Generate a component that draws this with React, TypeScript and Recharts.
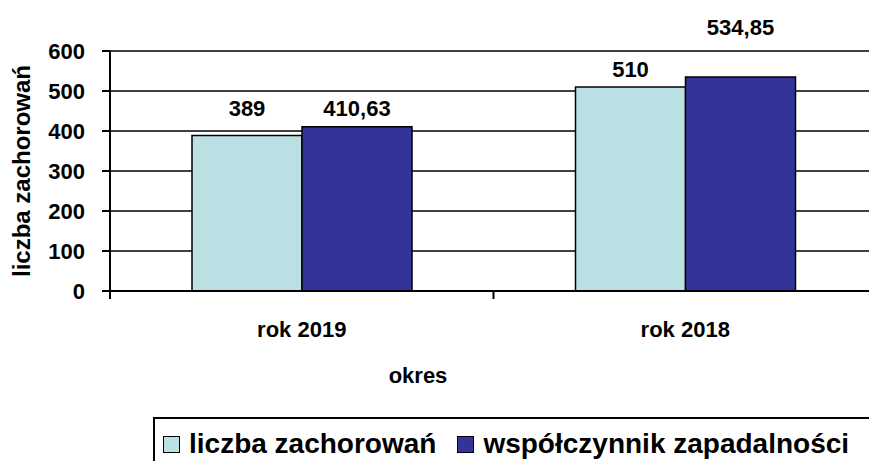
import React from 'react';
import { BarChart, Bar, XAxis, YAxis, CartesianGrid, LabelList } from 'recharts';

const categories = ['rok 2019', 'rok 2018'];
const cases = [389, 510];
const incidence = [410.63, 534.85];
const yTicks = [0, 100, 200, 300, 400, 500, 600];

const SERIES = [
  { key: 'cases', name: 'liczba zachorowań', color: '#BBE0E3' },
  { key: 'incidence', name: 'współczynnik zapadalności', color: '#333399' },
];

const data = categories.map((c, i) => ({ name: c, cases: cases[i], incidence: incidence[i] }));

const FONT = 'Arial, "Liberation Sans", sans-serif';

// how far above the bar top Excel put each value label
const LABEL_LIFT: Record<string, number[]> = { cases: [19, 10], incidence: [11, 42] };

const fmt = (v: number) => String(v).replace('.', ',');

const makeLabel = (key: string) => (props: any) => {
  const { x, y, width, value, index } = props;
  return (
    <text x={x + width / 2} y={y - LABEL_LIFT[key][index]} textAnchor="middle" fontFamily={FONT} fontSize={22} fontWeight="bold" fill="#000">
      {fmt(value)}
    </text>
  );
};

const XTick = (props: any) => {
  const { x, y, payload, width, visibleTicksCount } = props;
  const half = payload?.offset || width / (2 * visibleTicksCount);
  return (
    <g>
      <line x1={x - half} x2={x - half} y1={y} y2={y + 8} stroke="#000" strokeWidth={2} />
      <text x={x} y={y + 46} textAnchor="middle" fontFamily={FONT} fontSize={22} fontWeight="bold" fill="#000">
        {payload.value}
      </text>
    </g>
  );
};

const App: React.FC = () => (
  <div style={{ position: 'absolute', left: 0, top: 0, width: 869, height: 461, overflow: 'hidden', background: '#fff' }}>
    <BarChart width={880} height={461} data={data} margin={{ top: 51, right: 3, left: 0, bottom: 0 }} barGap={0} barSize={110}>
      <CartesianGrid vertical={false} stroke="#000" strokeWidth={1.5} />
      <XAxis
        dataKey="name"
        height={170}
        tickSize={0}
        tickMargin={0}
        tick={<XTick />}
        axisLine={{ stroke: '#000', strokeWidth: 2 }}
        label={{
          content: (p: any) => (
            <text x={p.viewBox.x + 308} y={p.viewBox.y + 92} textAnchor="middle" fontFamily={FONT} fontSize={22} fontWeight="bold" fill="#000">
              okres
            </text>
          ),
        }}
      />
      <YAxis
        width={110}
        domain={[0, 600]}
        ticks={yTicks}
        interval={0}
        tickSize={8}
        tickMargin={17}
        tickLine={{ stroke: '#000', strokeWidth: 2 }}
        axisLine={{ stroke: '#000', strokeWidth: 2 }}
        tick={{ fontFamily: FONT, fontSize: 22, fontWeight: 'bold', fill: '#000' }}
        label={{
          content: (p: any) => {
            const cy = p.viewBox.y + p.viewBox.height / 2;
            return (
              <text x={30} y={cy} transform={`rotate(-90, 30, ${cy})`} textAnchor="middle" fontFamily={FONT} fontSize={24} fontWeight="bold" fill="#000">
                liczba zachorowań
              </text>
            );
          },
        }}
      />
      {SERIES.map((s) => (
        <Bar key={s.key} dataKey={s.key} name={s.name} fill={s.color} stroke="#000" strokeWidth={1.5} isAnimationActive={false}>
          <LabelList dataKey={s.key} content={makeLabel(s.key)} />
        </Bar>
      ))}
    </BarChart>
    <div
      style={{
        position: 'absolute',
        left: 153,
        top: 417,
        width: 760,
        height: 80,
        border: '2px solid #000',
        boxSizing: 'border-box',
        fontFamily: FONT,
        fontSize: 28,
        fontWeight: 'bold',
        display: 'flex',
        alignItems: 'flex-start',
        paddingTop: 10,
        paddingLeft: 8,
        whiteSpace: 'nowrap',
      }}
    >
      {SERIES.map((s) => (
        <div key={s.key} style={{ display: 'flex', alignItems: 'center', marginRight: 21 }}>
          <span style={{ display: 'inline-block', width: 15, height: 15, background: s.color, border: '1.5px solid #000', marginRight: 9 }} />
          <span style={{ lineHeight: '30px' }}>{s.name}</span>
        </div>
      ))}
    </div>
  </div>
);

export default App;
